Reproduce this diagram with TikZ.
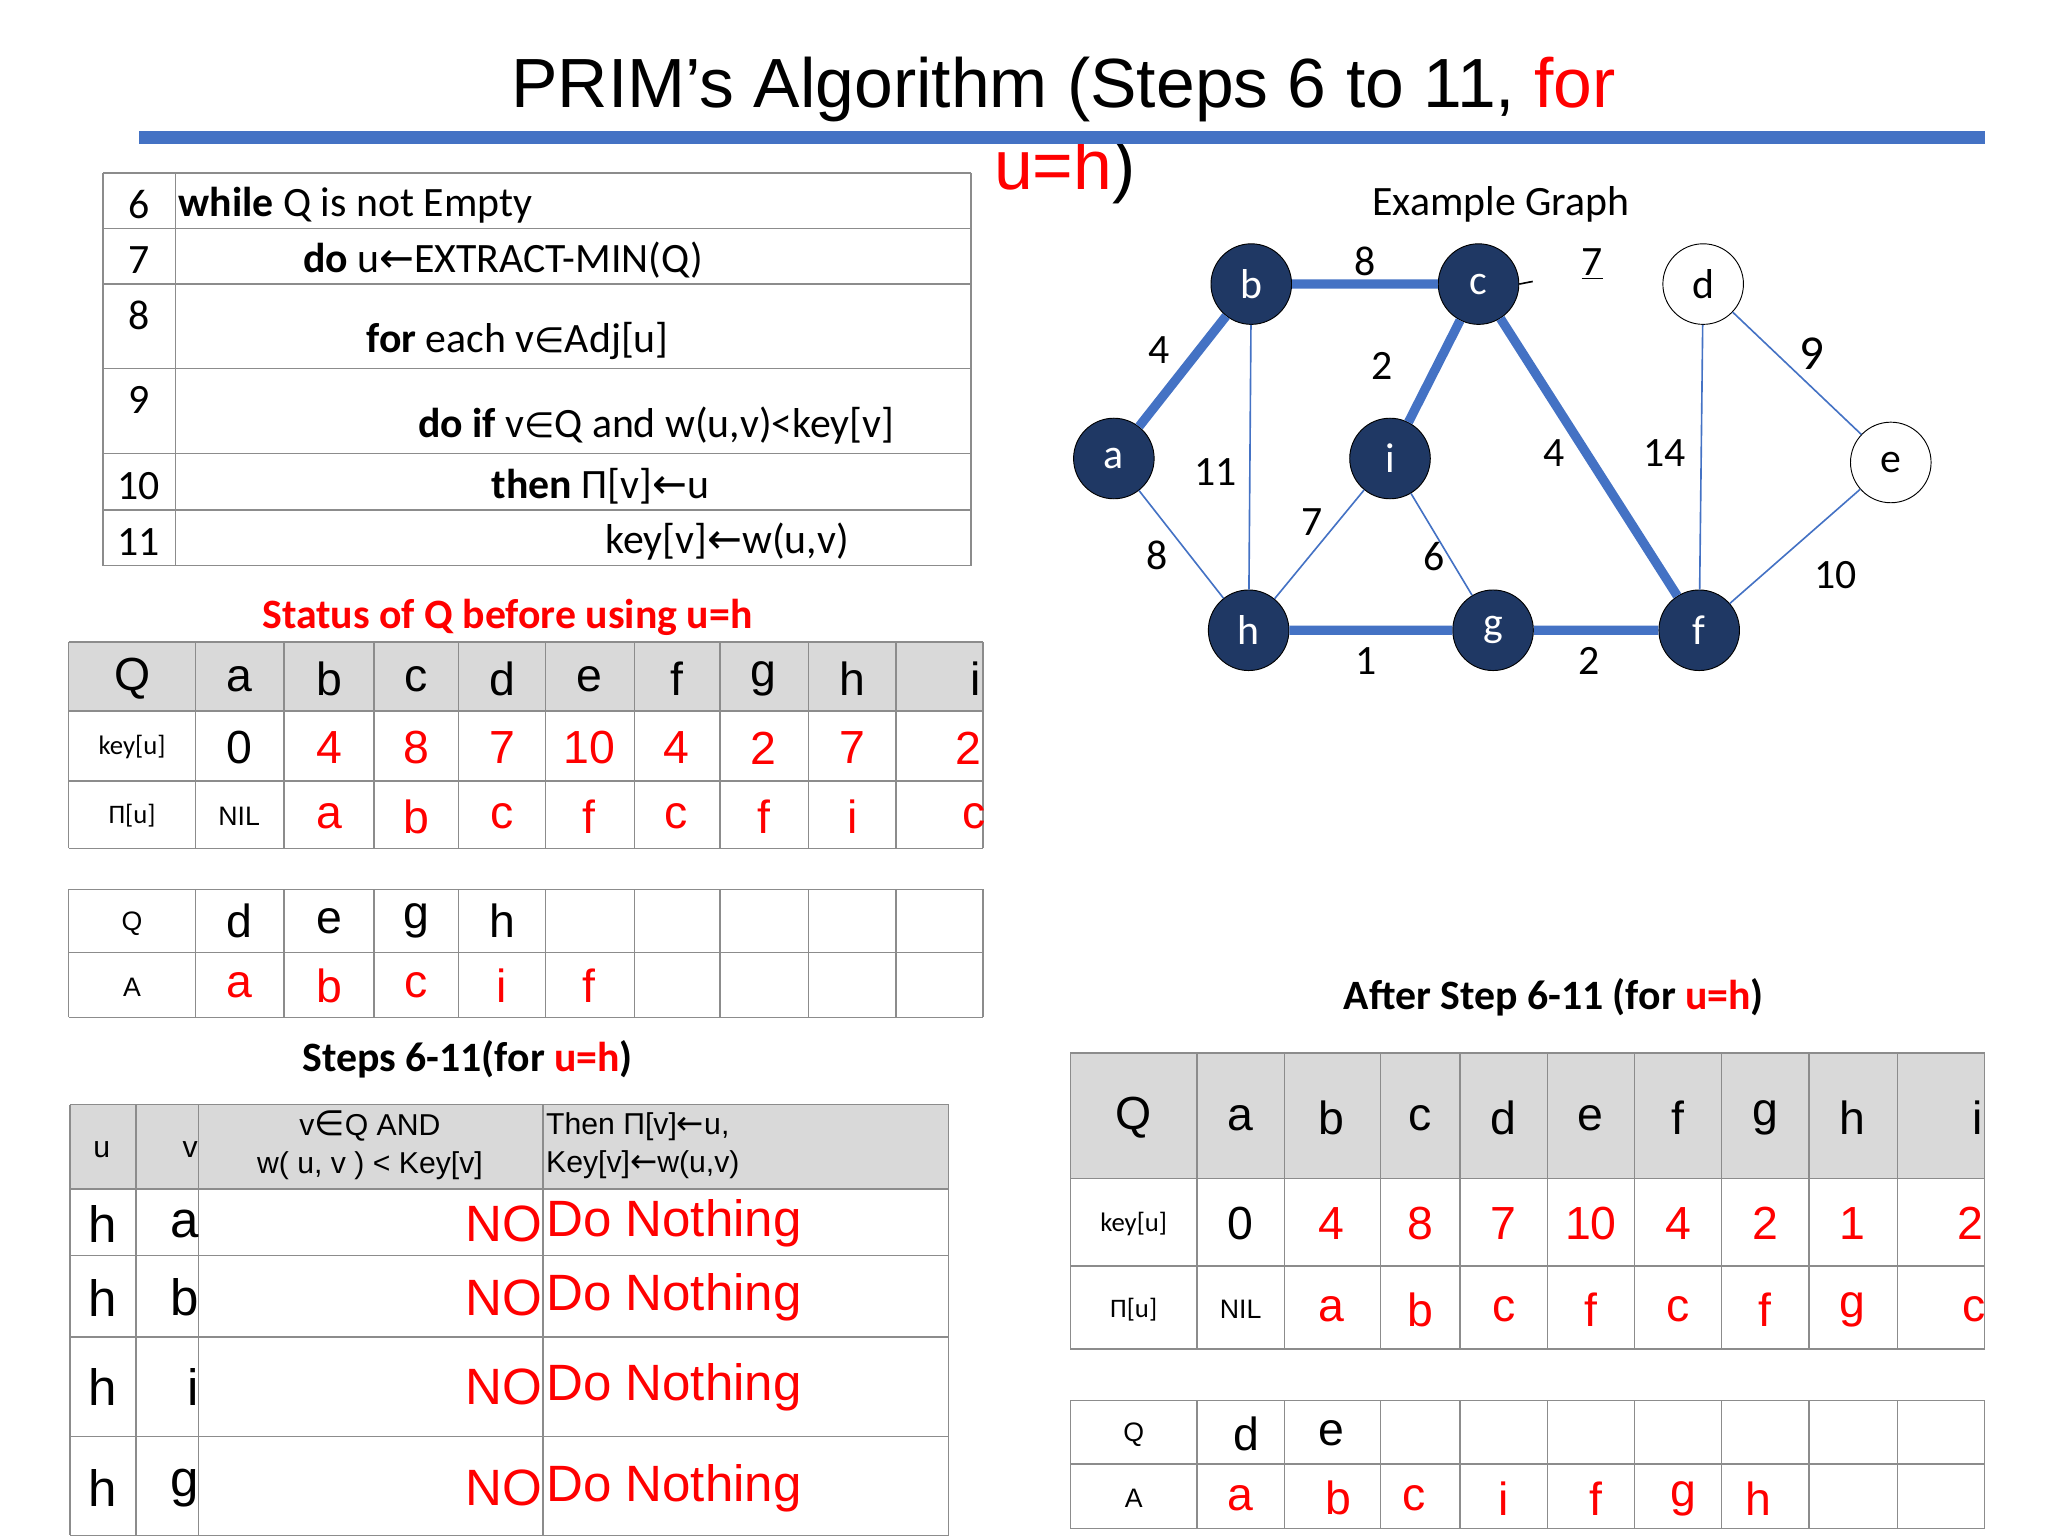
\documentclass[tikz,border=0pt]{standalone}
\usepackage{fontspec}
\setmainfont{Carlito}
\newfontfamily\ar{Liberation Sans}
\newfontfamily\sym{DejaVu Sans}
\definecolor{navy}{HTML}{1F3864}
\definecolor{eblue}{HTML}{4472C4}
\definecolor{grid}{HTML}{8C8C8C}
\definecolor{hdr}{HTML}{D9D9D9}
\newcommand{\inn}{{\sym\fontsize{15}{15}\selectfont ∈}}
\newcommand{\arr}{{\sym\fontsize{18}{15}\selectfont ←}}
\newcommand{\sarr}{{\sym\fontsize{14}{15}\selectfont ←}}
\begin{document}
\begin{tikzpicture}[x=0.02cm,y=-0.02cm,
  gl/.style={draw=grid,line width=0.6pt},
  t1/.style={font=\fontsize{18}{22}\selectfont,anchor=west,inner sep=0},
  big/.style={font=\ar\fontsize{20}{24}\selectfont,inner sep=0},
  rbig/.style={big,text=red},
  sml/.style={font=\fontsize{11.5}{14}\selectfont,inner sep=0},
  gn/.style={circle,draw=black,fill=navy,minimum size=1.22cm,inner sep=0,font=\fontsize{18}{22}\selectfont,text=white},
  wn/.style={circle,draw=black,fill=white,minimum size=1.22cm,inner sep=0,font=\fontsize{18}{22}\selectfont},
  thick edge/.style={draw=eblue,line width=4pt},
  thin edge/.style={draw=eblue,line width=0.7pt},
  el/.style={font=\fontsize{18}{22}\selectfont,inner sep=0}]
\useasboundingbox (0,0) rectangle (1550,1163);
% title
\node[font=\ar\fontsize{30}{34}\selectfont,inner sep=0] (title) at (805,68) {PRIM’s Algorithm (Steps 6 to 11, \textcolor{red}{for}};
\node[font=\ar\fontsize{30}{34}\selectfont,inner sep=0,anchor=west] (title2) at (752,130) {\textcolor{red}{u=h})};
\fill[eblue] (105,99) rectangle (1502,109);
% table 1
\foreach \y in {131,173,215,279,343,386,428} \draw[gl] (78,\y) -- (735,\y);
\draw[gl] (78,131) -- (78,428) (133,131) -- (133,428) (735,131) -- (735,428);
\foreach \n/\y in {6/155,7/197,8/239,9/303,10/368,11/410} \node[t1,anchor=center] (n\n) at (105,\y) {\n};
\node[t1] (r6) at (135,155) {\textbf{while} Q is not Empty};
\node[t1] (r7) at (229,197) {\textbf{do} u\arr EXTRACT-MIN(Q)};
\node[t1] (r8) at (277,258) {\textbf{for} each v\inn Adj[u]};
\node[t1] (r9) at (316,322) {\textbf{do if} v\inn Q and w(u,v)<key[v]};
\node[t1] (r10) at (372,368) {\textbf{then} Π[v]\arr u};
\node[t1] (r11) at (458,410) {key[v]\arr w(u,v)};
% status heading
\node[font=\bfseries\fontsize{18}{22}\selectfont,text=red,inner sep=0] (st) at (384,467) {Status of Q before using u=h};
% table 2
\fill[hdr] (52,486) rectangle (744,538);
\foreach \y in {486,538,591,642} \draw[gl] (52,\y) -- (744,\y);
\foreach \x in {52,148,215,283,347,413,480,545,612,678,744} \draw[gl] (\x,486) -- (\x,642);
\node[big] (q2) at (100,514) {Q};
\foreach \c/\x in {a/181,b/249,c/315,d/380,e/446,f/512,g/578,h/645} \node[big] (h2\c) at (\x,514) {\c};
\node[big,anchor=east] (h2i) at (743,514) {i};
\node[sml] (k2) at (100,565) {key[u]};
\node[big] (k2a) at (181,566) {0};
\foreach \v/\x [count=\k] in {4/249,8/315,7/380,10/446,4/512,2/578,7/645} \node[rbig] (k2\k) at (\x,566) {\v};
\node[rbig,anchor=east] (k2i) at (743,566) {2};
\node[sml] (p2) at (100,617) {Π[u]};
\node[sml,font=\ar\fontsize{11.5}{14}\selectfont] (p2a) at (181,618) {NIL};
\foreach \v/\x [count=\k] in {a/249,b/315,c/380,f/446,c/512,f/578,i/645} \node[rbig] (p2\k) at (\x,618) {\v};
\node[rbig,anchor=east] (p2i) at (746,618) {c};
% table 3
\foreach \y in {673,721,770} \draw[gl] (52,\y) -- (744,\y);
\foreach \x in {52,148,215,283,347,413,480,545,612,678,744} \draw[gl] (\x,673) -- (\x,770);
\node[sml,font=\ar\fontsize{11.5}{14}\selectfont] (q3) at (100,699) {Q};
\foreach \c/\x in {d/181,e/249,g/315,h/380} \node[big] (q3\c) at (\x,697) {\c};
\node[sml,font=\ar\fontsize{11.5}{14}\selectfont] (a3) at (100,747) {A};
\foreach \c/\x [count=\k] in {a/181,b/249,c/315,i/380,f/446} \node[rbig] (a3\k) at (\x,746) {\c};
% steps heading
\node[font=\bfseries\fontsize{18}{22}\selectfont,inner sep=0] (sh) at (354,802) {Steps 6-11(for \textcolor{red}{u=h})};
% table 4
\fill[hdr] (53,836) rectangle (718,900);
\foreach \y in {836,900,950,1012,1087,1162} \draw[gl] (53,\y) -- (718,\y);
\foreach \x in {53,103,150,411,718} \draw[gl] (\x,836) -- (\x,1162);
\node[big,font=\ar\fontsize{13}{16}\selectfont] (hu) at (77,870) {u};
\node[big,font=\ar\fontsize{13}{16}\selectfont,anchor=east] (hv) at (150,870) {v};
\node[big,font=\ar\fontsize{13}{16.5}\selectfont,align=center] (hc) at (280,867) {v\inn Q AND\\w( u, v ) < Key[v]};
\node[big,font=\ar\fontsize{13}{16.5}\selectfont,align=left,anchor=west] (ht) at (413,867) {Then Π[v]\sarr u,\\Key[v]\sarr w(u,v)};
\foreach \v/\y [count=\k] in {a/926,b/982,i/1050,g/1126} {
  \node[big,font=\ar\fontsize{22}{26}\selectfont] (u\k) at (78,\y) {h};
  \node[big,font=\ar\fontsize{22}{26}\selectfont,anchor=east] (v\k) at (151,\y) {\v};
  \node[rbig,font=\ar\fontsize{22}{26}\selectfont,anchor=east] (no\k) at (411,\y) {NO};
  \node[rbig,font=\ar\fontsize{22}{26}\selectfont,anchor=west] (dn\k) at (413,\y) {Do Nothing};
}
% graph
\node[font=\fontsize{18}{22}\selectfont,inner sep=0] (eg) at (1136,155) {Example Graph};
\node[gn] (b) at (947,215) {b};
\node[gn] (c) at (1119,215) {c};
\node[wn] (d) at (1289,215) {d};
\node[gn] (a) at (843,347) {a};
\node[gn] (i) at (1052,347) {i};
\node[wn] (e) at (1431,350) {e};
\node[gn] (h) at (945,477) {h};
\node[gn] (g) at (1130,477) {g};
\node[gn] (f) at (1286,477) {f};
\path[thin edge] (b) -- (h) (a) -- (h) (i) -- (h) (i) -- (g) (d) -- (f) (d) -- (e) (e) -- (f);
\path[thick edge] (a) -- (b) (b) -- (c) (c) -- (i) (c) -- (f) (h) -- (g) (g) -- (f);
\coordinate (cd) at (1160,213);
\draw[black,line width=0.7pt] (c.east) -- (cd);
\node[el] (l1) at (1033,198) {8};
\node[el] (l2) at (1205,200) {\underline{7}};
\node[el] (l3) at (877,265) {4};
\node[el] (l4) at (1046,277) {2};
\node[el] (l5) at (920,357) {11};
\node[el] (l6) at (1176,343) {4};
\node[el] (l7) at (1260,343) {14};
\node[el,font=\fontsize{21}{24}\selectfont] (l8) at (1371,268) {9};
\node[el] (l9) at (993,395) {7};
\node[el] (l10) at (876,420) {8};
\node[el] (l11) at (1085,421) {6};
\node[el] (l12) at (1389,435) {10};
\node[el] (l13) at (1034,500) {1};
\node[el] (l14) at (1203,500) {2};
% after heading
\node[font=\bfseries\fontsize{18}{22}\selectfont,inner sep=0] (ah) at (1176,755) {After Step 6-11 (for \textcolor{red}{u=h})};
% table 5
\fill[hdr] (810,797) rectangle (1502,892);
\foreach \y in {797,892,958,1021} \draw[gl] (810,\y) -- (1502,\y);
\foreach \x in {810,906,972,1045,1105,1171,1237,1303,1369,1436,1502} \draw[gl] (\x,797) -- (\x,1021);
\node[big] (q5) at (858,846) {Q};
\foreach \c/\x in {a/939,b/1008,c/1075,d/1138,e/1204,f/1270,g/1336,h/1402} \node[big] (h5\c) at (\x,846) {\c};
\node[big,anchor=east] (h5i) at (1501,846) {i};
\node[sml] (k5) at (858,926) {key[u]};
\node[big] (k5a) at (939,926) {0};
\foreach \v/\x [count=\k] in {4/1008,8/1075,7/1138,10/1204,4/1270,2/1336,1/1402} \node[rbig] (k5\k) at (\x,926) {\v};
\node[rbig,anchor=east] (k5i) at (1501,926) {2};
\node[sml] (p5) at (858,991) {Π[u]};
\node[sml,font=\ar\fontsize{11.5}{14}\selectfont] (p5a) at (939,991) {NIL};
\foreach \v/\x [count=\k] in {a/1008,b/1075,c/1138,f/1204,c/1270,f/1336,g/1402} \node[rbig] (p5\k) at (\x,991) {\v};
\node[rbig,anchor=east] (p5i) at (1503,991) {c};
% table 6
\foreach \y in {1060,1108,1157} \draw[gl] (810,\y) -- (1502,\y);
\foreach \x in {810,906,972,1045,1105,1171,1237,1303,1369,1436,1502} \draw[gl] (\x,1060) -- (\x,1157);
\node[sml,font=\ar\fontsize{11.5}{14}\selectfont] (q6) at (858,1086) {Q};
\foreach \c/\x in {d/943,e/1008} \node[big] (q6\c) at (\x,1085) {\c};
\node[sml,font=\ar\fontsize{11.5}{14}\selectfont] (a6) at (858,1134) {A};
\foreach \c/\x [count=\k] in {a/939,b/1013,c/1070,i/1138,f/1208,g/1274,h/1331} \node[rbig] (a6\k) at (\x,1134) {\c};
\end{tikzpicture}
\end{document}
